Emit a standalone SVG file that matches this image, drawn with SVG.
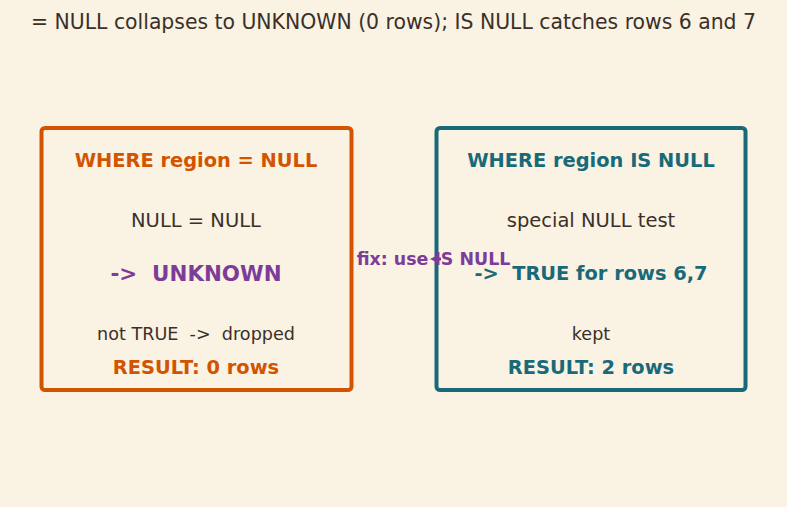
<svg xmlns="http://www.w3.org/2000/svg" width="787" height="507" viewBox="0 0 787 507">
<style>
text{font-family:"DejaVu Sans","Noto Sans",sans-serif;text-anchor:middle;white-space:pre}
.box{fill:none;stroke-width:4}
.dark{fill:#3a3028}
.b{font-weight:bold}
.or{fill:#d35400}
.te{fill:#196a78}
.pu{fill:#7d3c98}
</style>
<rect width="787" height="507" fill="#faf2e3"/>
<text x="393.5" y="28.5" class="dark" font-size="20.4" textLength="725">= NULL collapses to UNKNOWN (0 rows); IS NULL catches rows 6 and 7</text>
<g id="node-eq">
<rect class="box" x="41.5" y="128" width="310" height="262" rx="3.5" stroke="#d35400"/>
<text x="196" y="166.5" class="b or" font-size="19.4">WHERE region = NULL</text>
<text x="196" y="226.5" class="dark" font-size="19.5">NULL = NULL</text>
<text x="196" y="280.5" class="b pu" font-size="21.4" xml:space="preserve">-&gt;  UNKNOWN</text>
<text x="196" y="339.5" class="dark" font-size="17.6" xml:space="preserve">not TRUE  -&gt;  dropped</text>
<text x="196" y="373.5" class="b or" font-size="19.4">RESULT: 0 rows</text>
</g>
<g id="node-isnull">
<rect class="box" x="436.5" y="128" width="309" height="262" rx="3.5" stroke="#196a78"/>
<text x="591" y="166.5" class="b te" font-size="19.4">WHERE region IS NULL</text>
<text x="591" y="226.5" class="dark" font-size="19.5">special NULL test</text>
<text x="591" y="279.5" class="b te" font-size="19.4" xml:space="preserve">-&gt;  TRUE for rows 6,7</text>
<text x="591" y="339.5" class="dark" font-size="17.6">kept</text>
<text x="591" y="373.5" class="b te" font-size="19.4">RESULT: 2 rows</text>
</g>
<g id="connectors">
<path d="M436,259 L441,259" stroke="#7d3c98" stroke-width="3"/>
<path d="M430,259 L438,255 L438,263 Z" fill="#7d3c98"/>
<text x="433.5" y="264.5" class="b pu" font-size="17.4">fix: use IS NULL</text>
</g>
</svg>
